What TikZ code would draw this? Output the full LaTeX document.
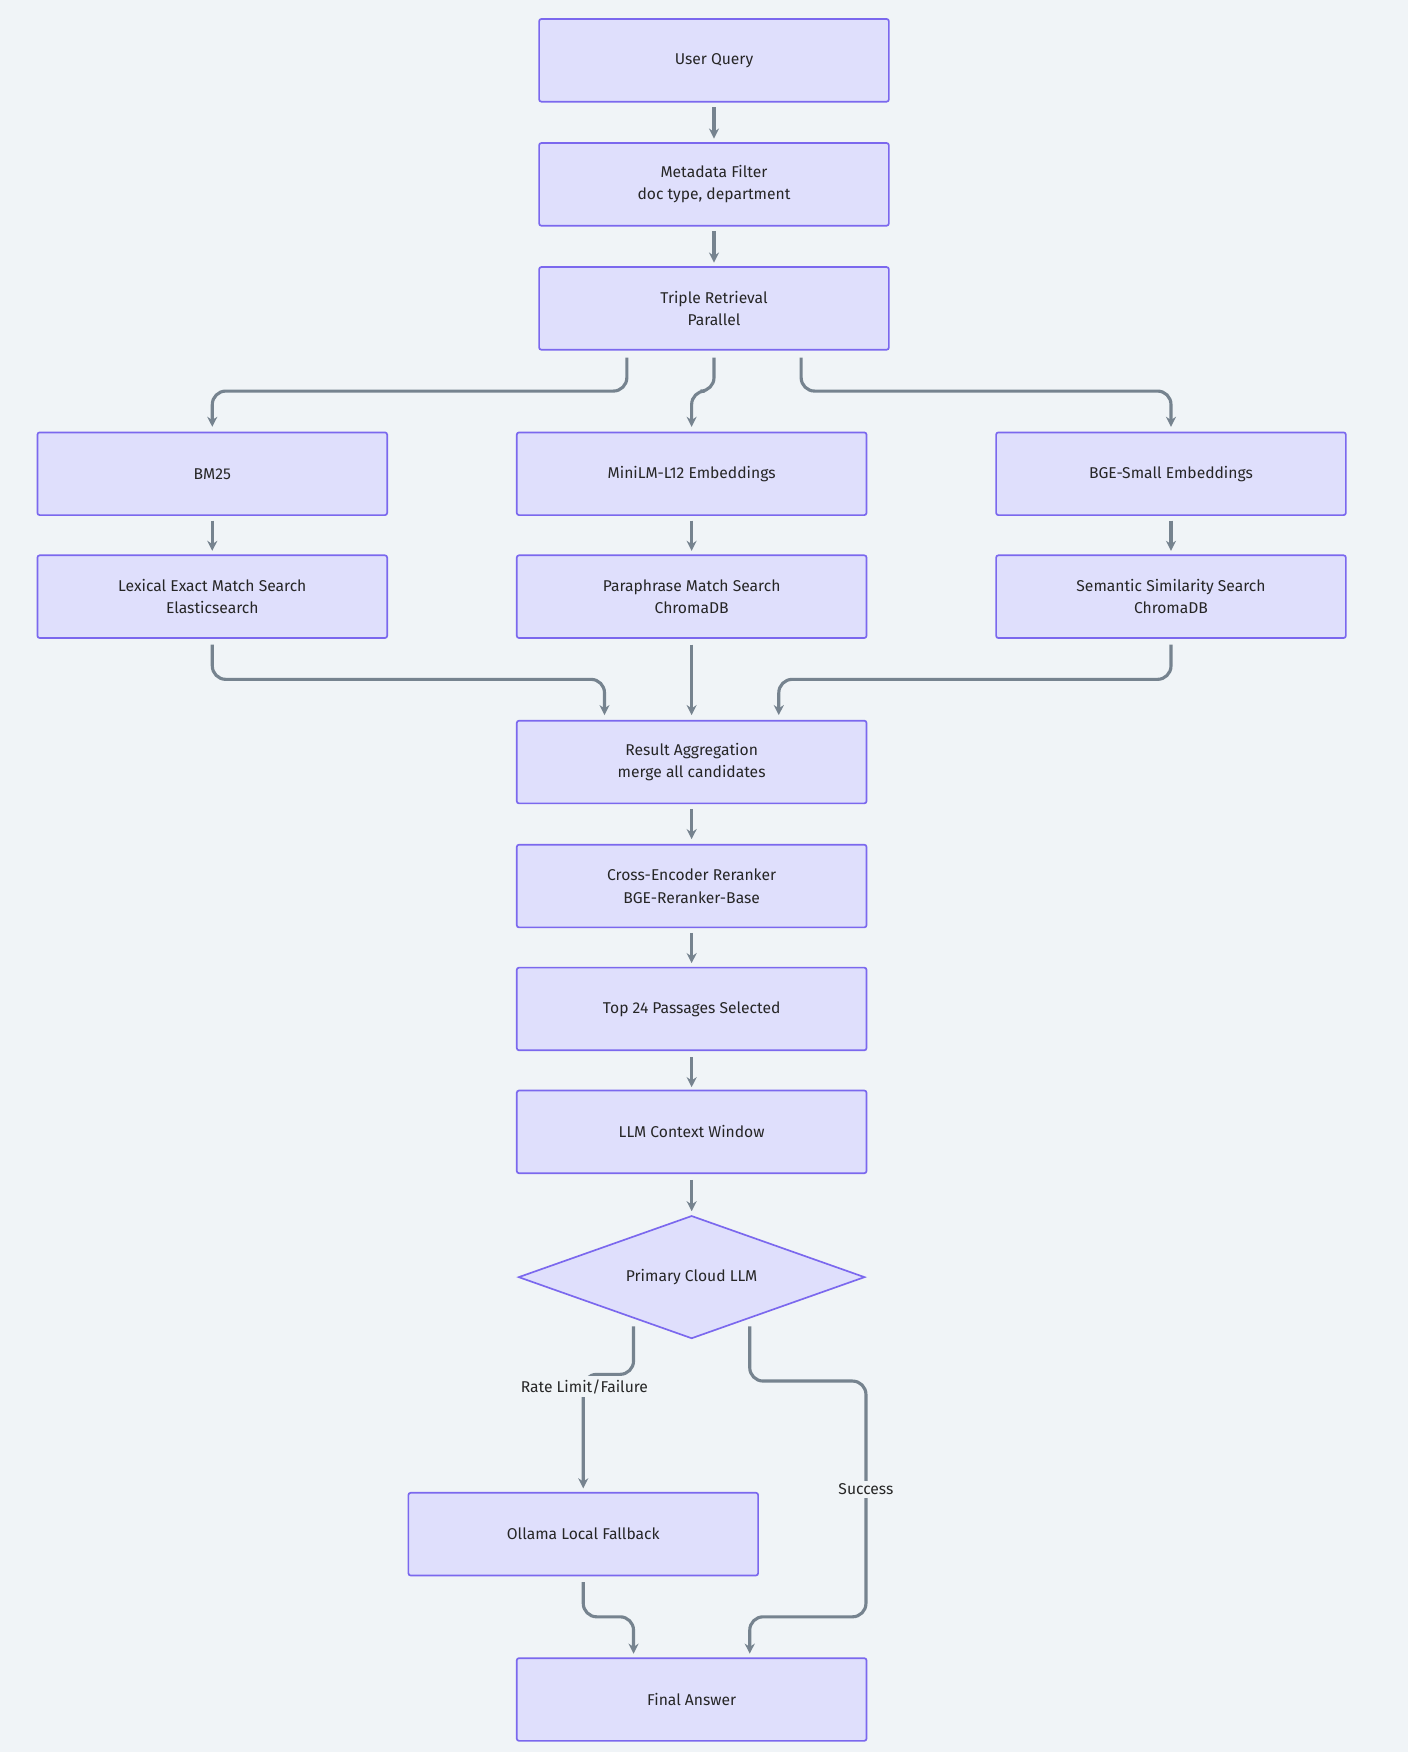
\documentclass[tikz,border=0pt]{standalone}
\usepackage{fontspec}
\setmainfont{Fira Sans}
\usetikzlibrary{shapes.geometric,arrows.meta,calc}
\definecolor{bg}{HTML}{F0F4F7}
\definecolor{bfill}{HTML}{DFDFFC}
\definecolor{bdraw}{HTML}{7B68EE}
\definecolor{ln}{HTML}{76838F}
\begin{document}
\begin{tikzpicture}[x=1pt,y=-1pt,
 box/.style={draw=bdraw,fill=bfill,line width=1.5pt,rounded corners=2pt,minimum width=313pt,minimum height=74pt,align=center,font=\fontsize{14}{20}\selectfont,text=black!85},
 dia/.style={diamond,aspect=2.82,draw=bdraw,fill=bfill,line width=1.5pt,minimum width=310pt,minimum height=110pt,inner sep=0pt,font=\fontsize{14}{20}\selectfont,text=black!85},
 ar/.style={draw=ln,line width=2.8pt,rounded corners=12pt,-{Stealth[length=9pt,width=9pt]}},
 lab/.style={fill=bg,font=\fontsize{14}{18}\selectfont,text=black!85,inner sep=3pt}]
\fill[bg] (0,0) rectangle (1260,1568);
\useasboundingbox (0,0) rectangle (1260,1568);
\node[box] (uq) at (639,54) {User Query};
\node[box] (mf) at (639,165) {Metadata Filter\\doc type, department};
\node[box] (tr) at (639,276) {Triple Retrieval\\Parallel};
\node[box] (bm) at (190,424) {BM25};
\node[box] (ml) at (619,424) {MiniLM-L12 Embeddings};
\node[box] (bg) at (1048,424) {BGE-Small Embeddings};
\node[box] (lx) at (190,534) {Lexical Exact Match Search\\Elasticsearch};
\node[box] (pm) at (619,534) {Paraphrase Match Search\\ChromaDB};
\node[box] (ss) at (1048,534) {Semantic Similarity Search\\ChromaDB};
\node[box] (ra) at (619,682) {Result Aggregation\\merge all candidates};
\node[box] (ce) at (619,793) {Cross-Encoder Reranker\\BGE-Reranker-Base};
\node[box] (tp) at (619,903) {Top 24 Passages Selected};
\node[box] (lc) at (619,1013) {LLM Context Window};
\node[dia] (pc) at (619,1143) {Primary Cloud LLM};
\node[box] (ol) at (522,1373) {Ollama Local Fallback};
\node[box] (fa) at (619,1521) {Final Answer};
\draw[ar] (639,96) -- (639,124);
\draw[ar] (639,207) -- (639,235);
\draw[ar] (561,320) -- (561,350) -- (190,350) -- (190,382);
\draw[ar] (639,320) -- (639,350) -- (619,350) -- (619,382);
\draw[ar] (717,320) -- (717,350) -- (1048,350) -- (1048,382);
\draw[ar] (190,466) -- (190,493);
\draw[ar] (619,466) -- (619,493);
\draw[ar] (1048,466) -- (1048,493);
\draw[ar] (190,577) -- (190,608) -- (541,608) -- (541,640);
\draw[ar] (619,577) -- (619,640);
\draw[ar] (1048,577) -- (1048,608) -- (697,608) -- (697,640);
\draw[ar] (619,724) -- (619,751);
\draw[ar] (619,835) -- (619,862);
\draw[ar] (619,946) -- (619,973);
\draw[ar] (619,1056) -- (619,1084);
\draw[ar] (567,1187) -- (567,1230) -- (522,1230) -- (522,1332);
\node[lab] (l1) at (523,1241) {Rate Limit/Failure};
\draw[ar] (671,1187) -- (671,1236) -- (775,1236) -- (775,1447) -- (671,1447) -- (671,1480);
\node[lab] (l2) at (775,1333) {Success};
\draw[ar] (522,1416) -- (522,1447) -- (567,1447) -- (567,1480);
\end{tikzpicture}
\end{document}
